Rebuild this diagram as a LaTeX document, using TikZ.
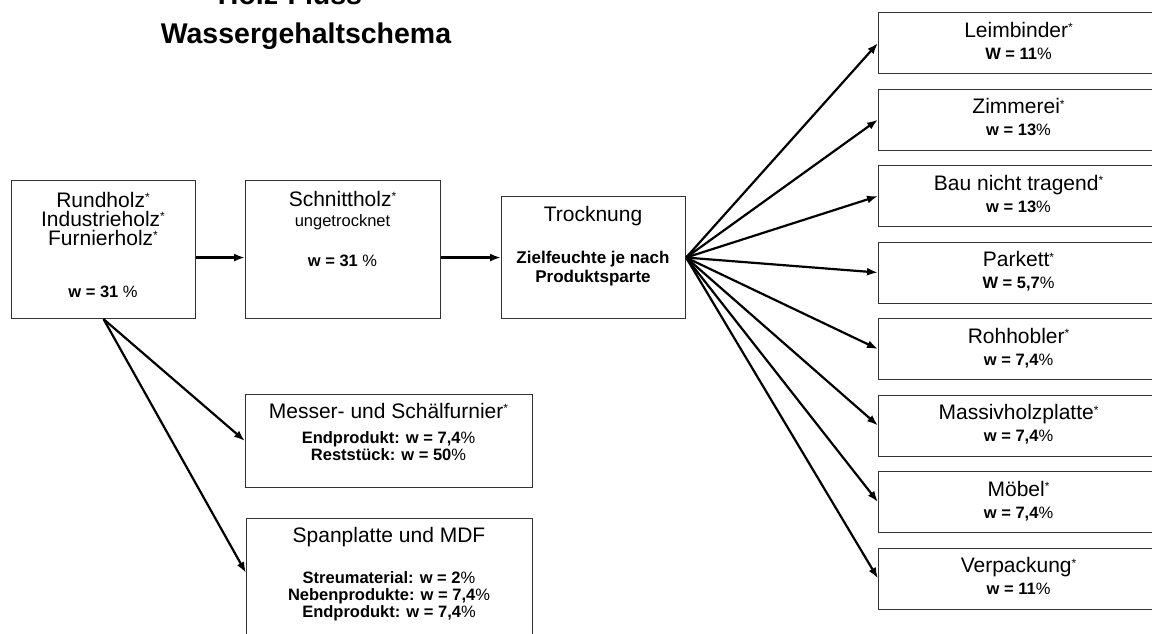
\documentclass[tikz,border=0pt]{standalone}
\usepackage{fontspec}
\setmainfont{Liberation Sans}
\usetikzlibrary{arrows.meta}
% lighter percent sign and small raised asterisk
\newcommand\pct{{\mdseries\%}}
\newcommand\st{{\mdseries\fontsize{12}{12}\selectfont\raisebox{5.5pt}{*}}}

\begin{document}
\begin{tikzpicture}[x=1pt,y=-1pt,
  box/.style={draw=black!80, line width=1.1pt, inner sep=0pt, anchor=north west, fill=white},
  hd/.style={anchor=base, inner sep=0pt, font=\fontsize{21}{21}\selectfont},
  sub/.style={anchor=base, inner sep=0pt, font=\fontsize{16.5}{16.5}\selectfont},
  val/.style={anchor=base, inner sep=0pt, font=\bfseries\fontsize{16.5}{16.5}\selectfont},
  note/.style={anchor=base, inner sep=0pt, font=\bfseries\fontsize{17}{17}\selectfont},
  arr/.style={line width=2.2pt, -{Latex[length=11pt,width=8pt]}},
  ttl/.style={anchor=base, inner sep=0pt, font=\bfseries\fontsize{28.5}{28.5}\selectfont}]

\useasboundingbox (0,0) rectangle (1152,633);
\begin{scope}
\clip (0,0) rectangle (1152,633);

% title
\node[ttl] (title1) at (290,4) {Holz-Fluss};
\node[ttl] (title2) at (306,43) {Wassergehaltschema};

% raw wood
\node[box, minimum width=184pt, minimum height=138pt] (rund) at (11,180) {};
\node[hd] (rund1) at (103,207) {Rundholz\st};
\node[hd] (rund2) at (103,226) {Industrieholz\st};
\node[hd] (rund3) at (103,245) {Furnierholz\st};
\node[val] (rundw) at (103,297) {w = 31 \pct};

% sawn timber
\node[box, minimum width=195pt, minimum height=138pt] (schnitt) at (245,180) {};
\node[hd] (schnitt1) at (342.5,206) {Schnittholz\st};
\node[sub] (schnitt2) at (342.5,226) {ungetrocknet};
\node[val] (schnittw) at (342.5,266) {w = 31 \pct};

% drying
\node[box, minimum width=184pt, minimum height=122pt] (trock) at (501,196) {};
\node[hd] (trock1) at (593,221) {Trocknung};
\node[note] (trock2) at (593,263) {Zielfeuchte je nach};
\node[note] (trock3) at (593,282) {Produktsparte};

% veneer
\node[box, minimum width=287pt, minimum height=93pt] (messer) at (245,394) {};
\node[hd] (messer1) at (388.5,418) {Messer- und Schälfurnier\st};
\node[val] (messer2) at (388.5,443) {Endprodukt: w = 7,4\pct};
\node[val] (messer3) at (388.5,460) {Reststück: w = 50\pct};

% particle board
\node[box, minimum width=286pt, minimum height=135pt] (span) at (246,518) {};
\node[hd] (span1) at (389,542) {Spanplatte und MDF};
\node[val] (span2) at (389,583) {Streumaterial: w = 2\pct};
\node[val] (span3) at (389,600) {Nebenprodukte: w = 7,4\pct};
\node[val] (span4) at (389,617) {Endprodukt: w = 7,4\pct};

% main flow
\draw[arr] (rund.east |- trock.east) -- (schnitt.west |- trock.east);
\draw[arr] (schnitt.east |- trock.east) -- (trock.west);
\draw[arr] (rund.south) -- (messer.west);
\draw[arr] (rund.south) -- ([yshift=-55pt]span.north west);

% product branches
\foreach \i/\nm/\v in {1/Leimbinder/W = 11, 2/Zimmerei/w = 13,
    3/Bau nicht tragend/w = 13, 4/Parkett/{W = 5,7}, 5/Rohhobler/{w = 7,4},
    6/Massivholzplatte/{w = 7,4}, 7/Möbel/{w = 7,4}, 8/Verpackung/w = 11}{
  \pgfmathsetmacro\t{12+76.5*(\i-1)}
  \node[box, minimum width=280pt, minimum height=61pt] (r\i) at (878,\t) {};
  \node[hd] (r\i h) at ([yshift=-25pt]r\i.north) {\nm\st};
  \node[val] (r\i v) at ([yshift=-47pt]r\i.north) {\v\pct};
  \draw[arr] (trock.east) -- (r\i.west);
}
\end{scope}
\end{tikzpicture}
\end{document}
